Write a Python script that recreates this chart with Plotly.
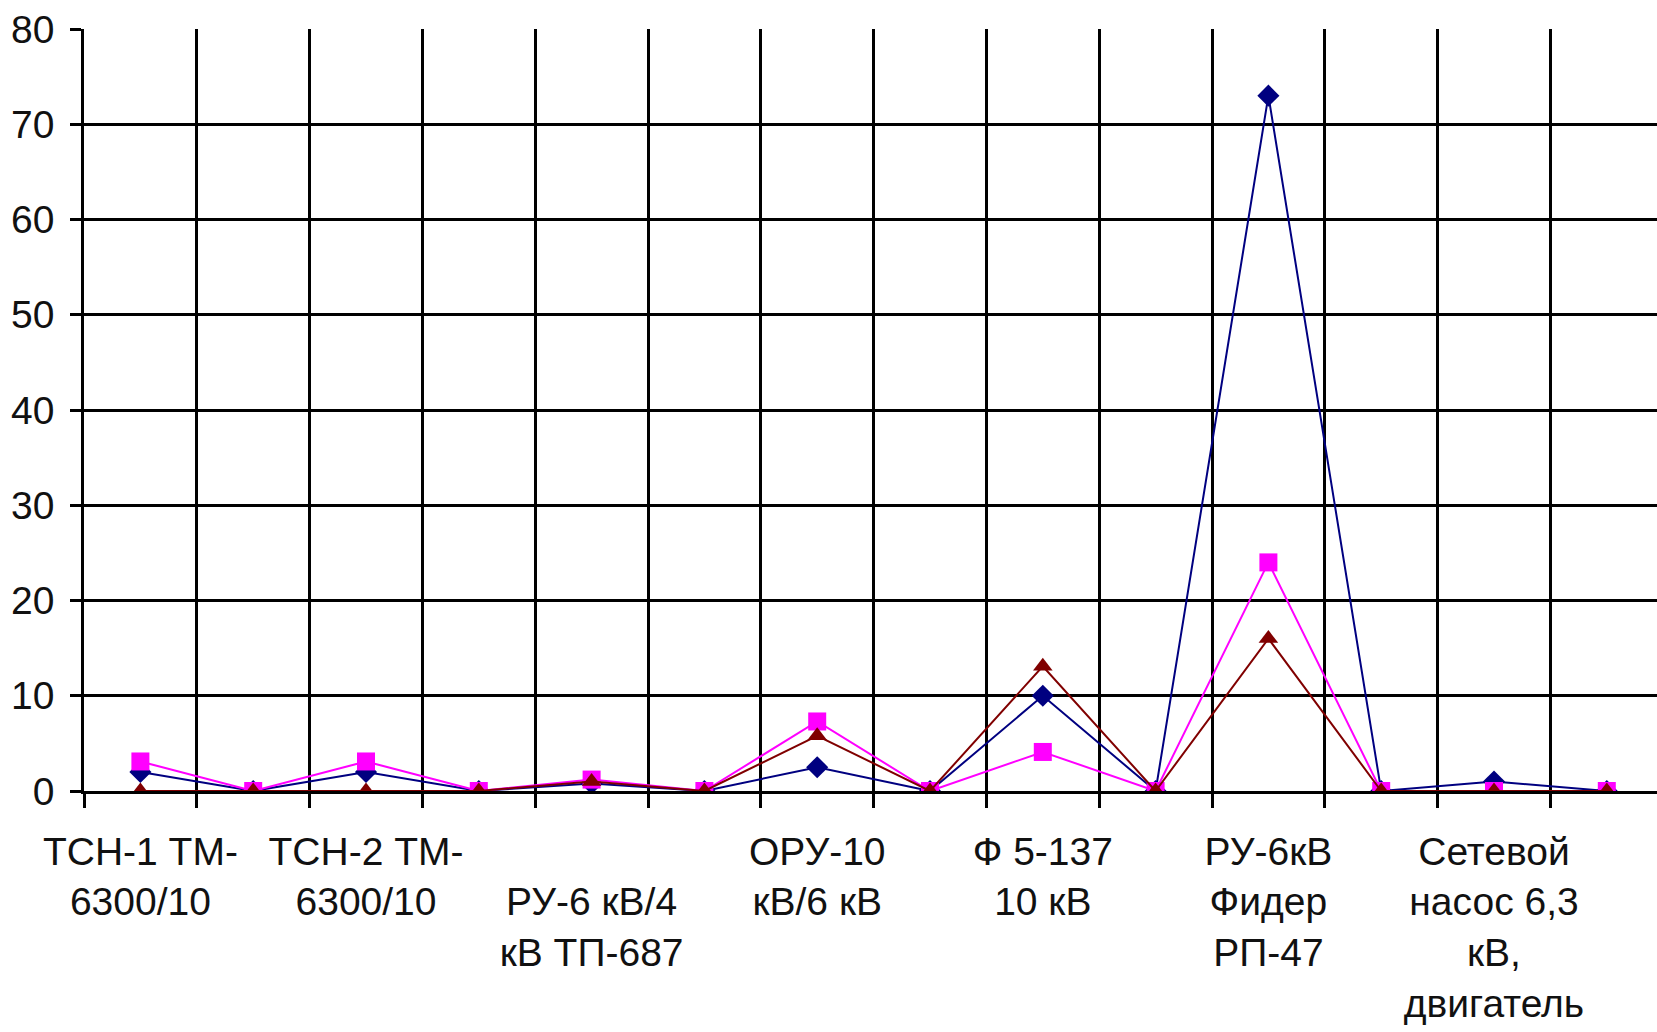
import plotly.graph_objects as go

categories = [
    "ТСН-1 ТМ-<br>6300/10", "",
    "ТСН-2 ТМ-<br>6300/10", "",
    " <br>РУ-6 кВ/4<br>кВ ТП-687", "",
    "ОРУ-10<br>кВ/6 кВ", "",
    "Ф 5-137<br>10 кВ", "",
    "РУ-6кВ<br>Фидер<br>РП-47", "",
    "Сетевой<br>насос 6,3<br>кВ,<br>двигатель", "",
]
series_blue = [2, 0, 2, 0, 0.8, 0, 2.5, 0, 10, 0, 73, 0, 1, 0]
series_pink = [3.1, 0, 3.1, 0, 1.2, 0, 7.3, 0, 4.1, 0, 24, 0, 0, 0]
series_red = [0, 0, 0, 0, 1.0, 0, 5.8, 0, 13.1, 0, 16, 0, 0, 0]
y_ticks = [0, 10, 20, 30, 40, 50, 60, 70, 80]

idx = list(range(len(categories)))
FONT = "Liberation Sans, Arial, sans-serif"
FSIZE = 39

fig = go.Figure()
fig.add_trace(go.Scatter(x=idx, y=series_blue, mode="lines+markers",
                         line=dict(color="#000080", width=2),
                         marker=dict(symbol="diamond", size=17, color="#000080")))
fig.add_trace(go.Scatter(x=idx, y=series_pink, mode="lines+markers",
                         line=dict(color="#FF00FF", width=2),
                         marker=dict(symbol="square", size=18, color="#FF00FF")))
fig.add_trace(go.Scatter(x=idx, y=series_red, mode="lines+markers",
                         line=dict(color="#800000", width=2),
                         marker=dict(symbol="triangle-up", size=17, color="#800000")))

fig.update_layout(
    width=1657, height=1032,
    margin=dict(l=84, r=0, t=29, b=241),
    paper_bgcolor="white", plot_bgcolor="white",
    showlegend=False,
    font=dict(family=FONT, size=FSIZE, color="#111111"),
)
fig.update_xaxes(
    type="category", tickmode="array", tickvals=idx, ticktext=categories,
    tickson="boundaries", range=[-0.5, 13.445],
    showgrid=True, gridcolor="black", gridwidth=2.5,
    showline=True, linecolor="black", linewidth=2.5,
    ticks="outside", ticklen=14, tickwidth=2.5, tickcolor="black",
    tickangle=0, ticklabelstandoff=24,
    tickfont=dict(family=FONT, size=FSIZE, color="#111111"),
)
fig.update_yaxes(
    range=[0, 80], tickmode="array", tickvals=y_ticks,
    showgrid=True, gridcolor="black", gridwidth=2.5, zeroline=False,
    showline=True, linecolor="black", linewidth=2.5,
    ticks="outside", ticklen=11, tickwidth=2.5, tickcolor="black",
    ticklabelstandoff=8,
    tickfont=dict(family=FONT, size=FSIZE, color="#111111"),
)

fig.write_html("out.html", config={"displayModeBar": False},
               post_script="document.body.style.margin='0';document.body.style.overflow='hidden';")
